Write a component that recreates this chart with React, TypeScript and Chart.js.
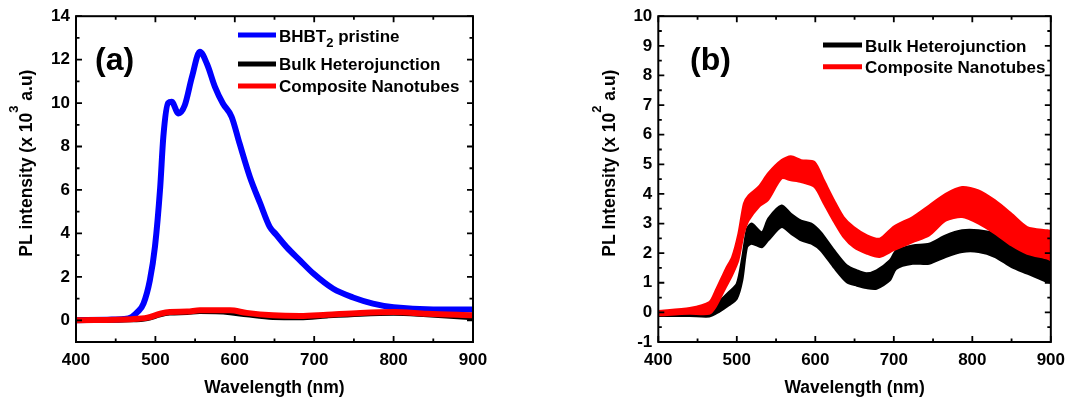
import React, { useEffect, useRef } from "react";
import { Chart, registerables } from "chart.js";

Chart.register(...registerables);

const FONT = '"Liberation Sans", Arial, Helvetica, sans-serif';

// ---------- Panel (a) data: PL intensity (x 10^3 a.u) ----------
const wlBlueA = [400, 440, 460, 470, 478, 485, 493, 499.5, 506, 510, 516, 520.5, 529, 537, 546, 556, 565, 575, 585, 596, 606, 619, 632, 644, 652, 665, 682, 699, 724, 749, 774, 800, 850, 900];
const blueA = [0, 0.03, 0.06, 0.15, 0.4, 0.77, 1.84, 3.4, 6.1, 8.45, 10.0, 10.06, 9.52, 9.9, 11.2, 12.36, 11.8, 10.75, 9.98, 9.37, 8.14, 6.6, 5.38, 4.3, 3.95, 3.38, 2.76, 2.15, 1.45, 1.05, 0.77, 0.6, 0.5, 0.5];
const wlLowA = [400, 470, 490, 506, 518, 540, 556, 594, 615, 648, 682, 716, 758, 800, 842, 900];
const blackA = [0, 0.02, 0.08, 0.25, 0.33, 0.36, 0.4, 0.35, 0.25, 0.13, 0.12, 0.2, 0.28, 0.32, 0.25, 0.12];
const redA = [0, 0.05, 0.12, 0.3, 0.38, 0.4, 0.46, 0.46, 0.34, 0.23, 0.2, 0.26, 0.34, 0.38, 0.3, 0.23];
const xTicksA = [400, 500, 600, 700, 800, 900];
const yTicksA = [0, 2, 4, 6, 8, 10, 12, 14];

// ---------- Panel (b) data: PL intensity (x 10^2 a.u), noisy band = upper/lower envelope ----------
const wlBlackB = [400, 440, 465, 477, 490, 500, 507, 513, 519, 532, 540, 557, 569, 582, 595, 607, 624, 640, 653, 665, 678, 695, 703, 724, 745, 766, 787, 808, 829, 850, 870, 896, 900];
const blackUpB = [0.0, 0.0, 0.01, 0.35, 0.69, 0.97, 1.87, 2.83, 3.0, 2.71, 3.17, 3.61, 3.33, 3.1, 3.0, 2.71, 2.1, 1.59, 1.42, 1.32, 1.42, 1.76, 2.09, 2.26, 2.32, 2.6, 2.77, 2.77, 2.66, 2.32, 2.09, 1.87, 1.75];
const blackLoB = [-0.12, -0.12, -0.14, 0.01, 0.24, 0.46, 1.08, 2.2, 2.32, 2.2, 2.43, 2.88, 2.66, 2.43, 2.32, 2.09, 1.5, 1.02, 0.9, 0.82, 0.8, 1.08, 1.47, 1.64, 1.64, 1.87, 2.04, 2.04, 1.87, 1.53, 1.31, 1.02, 1.0];
const wlRedB = [400, 440, 465, 473, 486, 494, 502, 509, 515, 528, 540, 557, 569, 582, 599, 611, 624, 636, 649, 666, 682, 700, 724, 745, 766, 787, 808, 829, 850, 870, 896, 900];
const redUpB = [0.05, 0.15, 0.35, 0.74, 1.47, 1.87, 2.66, 3.68, 3.95, 4.25, 4.7, 5.14, 5.27, 5.14, 5.08, 4.46, 3.78, 3.22, 2.88, 2.6, 2.49, 2.9, 3.22, 3.61, 4.0, 4.23, 4.12, 3.78, 3.33, 2.88, 2.77, 2.75];
const redLoB = [-0.1, -0.05, -0.05, 0.18, 0.85, 1.25, 1.76, 2.66, 3.1, 3.56, 3.8, 4.52, 4.46, 4.4, 4.23, 3.67, 3.05, 2.54, 2.2, 1.98, 1.87, 2.1, 2.37, 2.6, 3.1, 3.22, 3.0, 2.66, 2.26, 1.98, 1.81, 1.75];
const xTicksB = [400, 500, 600, 700, 800, 900];
const yTicksB = [-1, 0, 1, 2, 3, 4, 5, 6, 7, 8, 9, 10];

const BLUE = "#0000ff";
const RED = "#ff0000";
const BLACK = "#000000";

type Run = { t: string; size: number; dy: number };

function drawRuns(ctx: CanvasRenderingContext2D, x: number, y: number, runs: Run[]) {
  let cx = x;
  for (const r of runs) {
    ctx.font = `bold ${r.size}px ${FONT}`;
    ctx.fillText(r.t, cx, y + r.dy);
    cx += ctx.measureText(r.t).width;
  }
}

type LegendItem = { color: string; lineY: number; baseY: number; runs: Run[] };
type Deco = {
  id: string;
  panelLabel: { text: string; x: number; y: number };
  legendX1: number;
  legendX2: number;
  legendTextX: number;
  legend: LegendItem[];
  xTitle: string;
  xTitleY: number;
  yTitleX: number;
  yTitleY: number;
  yTitleRuns: Run[];
  xMinorStep: number;
  yMinorStep: number;
};

function decoPlugin(d: Deco) {
  return {
    id: d.id,
    afterDraw(chart: any) {
      const ctx: CanvasRenderingContext2D = chart.ctx;
      const { left, right, top, bottom } = chart.chartArea;
      const xs = chart.scales.x;
      const ys = chart.scales.y;
      ctx.save();
      ctx.strokeStyle = "#000";
      ctx.fillStyle = "#000";
      // frame
      ctx.lineWidth = 2;
      ctx.strokeRect(left, top, right - left, bottom - top);
      // ticks (inward, on all sides)
      ctx.lineWidth = 1.8;
      const major = 6;
      const minor = 3.5;
      for (let v = xs.min; v <= xs.max + 1e-9; v += d.xMinorStep) {
        const px = xs.getPixelForValue(v);
        const isMajor = xs.ticks.some((t: any) => Math.abs(t.value - v) < 1e-6);
        const L = isMajor ? major : minor;
        ctx.beginPath();
        ctx.moveTo(px, bottom);
        ctx.lineTo(px, bottom - L);
        ctx.moveTo(px, top);
        ctx.lineTo(px, top + L);
        ctx.stroke();
      }
      for (let v = ys.min; v <= ys.max + 1e-9; v += d.yMinorStep) {
        const py = ys.getPixelForValue(v);
        const isMajor = ys.ticks.some((t: any) => Math.abs(t.value - v) < 1e-6);
        const L = isMajor ? major : minor;
        ctx.beginPath();
        ctx.moveTo(left, py);
        ctx.lineTo(left + L, py);
        ctx.moveTo(right, py);
        ctx.lineTo(right - L, py);
        ctx.stroke();
      }
      // panel label
      ctx.textBaseline = "alphabetic";
      ctx.textAlign = "left";
      ctx.font = `bold 32px ${FONT}`;
      ctx.fillText(d.panelLabel.text, d.panelLabel.x, d.panelLabel.y);
      // legend
      for (const it of d.legend) {
        ctx.strokeStyle = it.color;
        ctx.lineWidth = 5;
        ctx.beginPath();
        ctx.moveTo(d.legendX1, it.lineY);
        ctx.lineTo(d.legendX2, it.lineY);
        ctx.stroke();
        ctx.fillStyle = "#000";
        drawRuns(ctx, d.legendTextX, it.baseY, it.runs);
      }
      // x title
      ctx.font = `bold 17.5px ${FONT}`;
      ctx.textAlign = "center";
      ctx.fillText(d.xTitle, (left + right) / 2, d.xTitleY);
      // y title (rotated)
      ctx.textAlign = "left";
      ctx.translate(d.yTitleX, d.yTitleY);
      ctx.rotate(-Math.PI / 2);
      drawRuns(ctx, 0, 0, d.yTitleRuns);
      ctx.restore();
    },
  };
}

const tickFont = { family: FONT, size: 17, weight: "bold" as const };

function makeScales(opts: {
  xTicks: number[];
  yTicks: number[];
  yMin: number;
  yMax: number;
  yAxisWidth: number;
}) {
  return {
    x: {
      type: "linear" as const,
      min: 400,
      max: 900,
      afterBuildTicks: (s: any) => {
        s.ticks = opts.xTicks.map((v) => ({ value: v }));
      },
      ticks: { font: tickFont, color: "#000", padding: 8, maxRotation: 0, autoSkip: false },
      grid: { display: false, drawTicks: false },
      border: { display: false },
      afterFit: (s: any) => {
        s.height = 59;
      },
    },
    y: {
      type: "linear" as const,
      min: opts.yMin,
      max: opts.yMax,
      afterBuildTicks: (s: any) => {
        s.ticks = opts.yTicks.map((v) => ({ value: v }));
      },
      ticks: { font: tickFont, color: "#000", padding: 6, autoSkip: false },
      grid: { display: false, drawTicks: false },
      border: { display: false },
      afterFit: (s: any) => {
        s.width = opts.yAxisWidth;
      },
    },
  };
}

function pts(xs: number[], ys: number[]) {
  return xs.map((x, i) => ({ x, y: ys[i] }));
}

function configA(): any {
  return {
    type: "line",
    data: {
      datasets: [
        { label: "BHBT2 pristine", data: pts(wlBlueA, blueA), borderColor: BLUE, borderWidth: 6, pointRadius: 0, cubicInterpolationMode: "monotone", order: 2, fill: false },
        { label: "Bulk Heterojunction", data: pts(wlLowA, blackA), borderColor: BLACK, borderWidth: 5, pointRadius: 0, cubicInterpolationMode: "monotone", order: 1, fill: false },
        { label: "Composite Nanotubes", data: pts(wlLowA, redA), borderColor: RED, borderWidth: 6, pointRadius: 0, cubicInterpolationMode: "monotone", order: 0, fill: false },
      ],
    },
    options: {
      animation: false,
      responsive: false,
      devicePixelRatio: 1,
      layout: { padding: { left: 0, top: 16, right: 67, bottom: 0 } },
      plugins: { legend: { display: false }, tooltip: { enabled: false }, title: { display: false } },
      scales: makeScales({ xTicks: xTicksA, yTicks: yTicksA, yMin: -1, yMax: 14, yAxisWidth: 76 }),
    },
    plugins: [
      decoPlugin({
        id: "decoA",
        panelLabel: { text: "(a)", x: 95, y: 70 },
        legendX1: 238,
        legendX2: 276,
        legendTextX: 279,
        legend: [
          { color: BLUE, lineY: 35, baseY: 41.7, runs: [{ t: "BHBT", size: 17, dy: 0 }, { t: "2", size: 13, dy: 5 }, { t: " pristine", size: 17, dy: 0 }] },
          { color: BLACK, lineY: 64, baseY: 70, runs: [{ t: "Bulk Heterojunction", size: 17, dy: 0 }] },
          { color: RED, lineY: 86, baseY: 91.7, runs: [{ t: "Composite Nanotubes", size: 17, dy: 0 }] },
        ],
        xTitle: "Wavelength (nm)",
        xTitleY: 393,
        yTitleX: 31.7,
        yTitleY: 256.7,
        yTitleRuns: [
          { t: "PL intensity (x 10", size: 17.5, dy: 0 },
          { t: "3", size: 13, dy: -14 },
          { t: " a.u)", size: 17.5, dy: 0 },
        ],
        xMinorStep: 50,
        yMinorStep: 1,
      }),
    ],
  };
}

function configB(): any {
  const band = (xs: number[], up: number[], lo: number[], color: string, order: number, name: string) => [
    { label: name, data: pts(xs, up), borderColor: color, backgroundColor: color, borderWidth: 2, pointRadius: 0, tension: 0.25, order, fill: false },
    { label: name + " (lower)", data: pts(xs, lo), borderColor: color, backgroundColor: color, borderWidth: 2, pointRadius: 0, tension: 0.25, order, fill: "-1" },
  ];
  return {
    type: "line",
    data: {
      datasets: [
        ...band(wlBlackB, blackUpB, blackLoB, BLACK, 1, "Bulk Heterojunction"),
        ...band(wlRedB, redUpB, redLoB, RED, 0, "Composite Nanotubes"),
      ],
    },
    options: {
      animation: false,
      responsive: false,
      devicePixelRatio: 1,
      layout: { padding: { left: 0, top: 16, right: 16.3, bottom: 0 } },
      plugins: { legend: { display: false }, tooltip: { enabled: false }, title: { display: false } },
      scales: makeScales({ xTicks: xTicksB, yTicks: yTicksB, yMin: -1, yMax: 10, yAxisWidth: 118.3 }),
    },
    plugins: [
      decoPlugin({
        id: "decoB",
        panelLabel: { text: "(b)", x: 150, y: 70 },
        legendX1: 283,
        legendX2: 322,
        legendTextX: 325,
        legend: [
          { color: BLACK, lineY: 45, baseY: 51.7, runs: [{ t: "Bulk Heterojunction", size: 17, dy: 0 }] },
          { color: RED, lineY: 66.7, baseY: 72.7, runs: [{ t: "Composite Nanotubes", size: 17, dy: 0 }] },
        ],
        xTitle: "Wavelength (nm)",
        xTitleY: 393,
        yTitleX: 75,
        yTitleY: 256.7,
        yTitleRuns: [
          { t: "PL Intensity (x 10", size: 17.5, dy: 0 },
          { t: "2", size: 13, dy: -14 },
          { t: " a.u)", size: 17.5, dy: 0 },
        ],
        xMinorStep: 50,
        yMinorStep: 0.5,
      }),
    ],
  };
}

export default function App() {
  const refA = useRef<HTMLCanvasElement>(null);
  const refB = useRef<HTMLCanvasElement>(null);
  useEffect(() => {
    document.body.style.margin = "0";
    const a = new Chart(refA.current!, configA());
    const b = new Chart(refB.current!, configB());
    return () => {
      a.destroy();
      b.destroy();
    };
  }, []);
  return (
    <div style={{ position: "relative", width: 1073, height: 401, background: "#fff", overflow: "hidden" }}>
      <canvas ref={refA} width={540} height={401} style={{ position: "absolute", left: 0, top: 0 }} />
      <canvas ref={refB} width={533} height={401} style={{ position: "absolute", left: 540, top: 0 }} />
    </div>
  );
}
